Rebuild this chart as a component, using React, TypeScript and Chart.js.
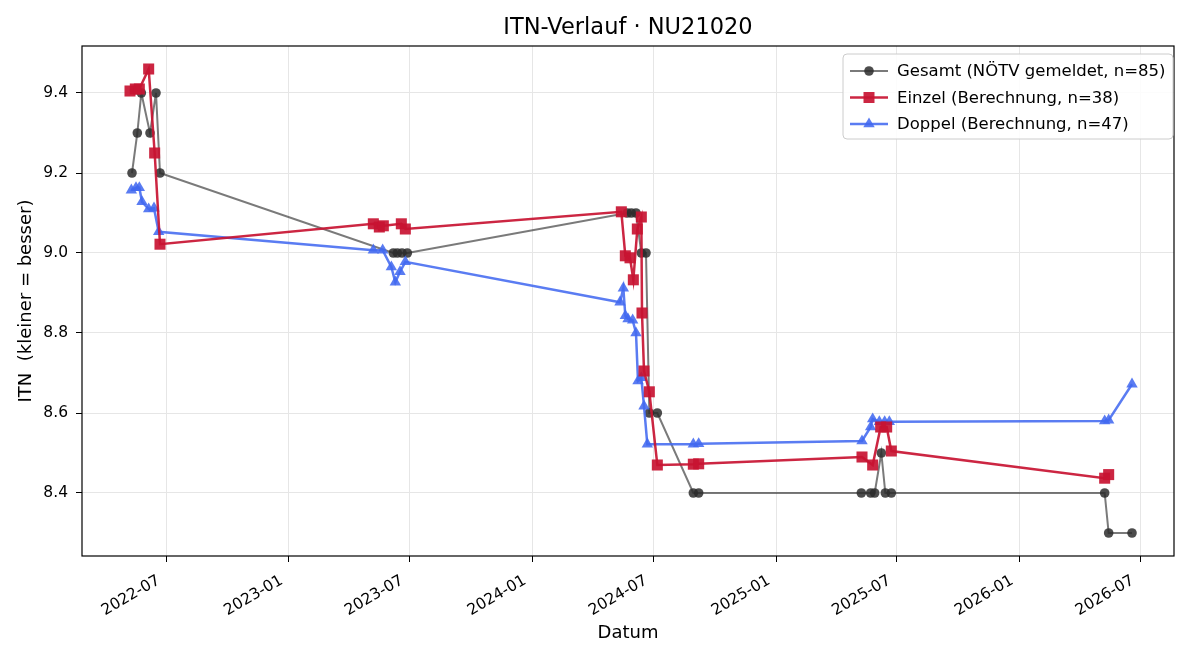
import React, { useEffect, useRef } from "react";
import { Chart, registerables } from "chart.js";

Chart.register(...registerables);

const gesamtDates = [
  "2022-05-11", "2022-05-19", "2022-05-25", "2022-06-07", "2022-06-16", "2022-06-22",
  "2023-06-07", "2023-06-13", "2023-06-20", "2023-06-28",
  "2024-05-23", "2024-05-29", "2024-06-05", "2024-06-13", "2024-06-20", "2024-06-25", "2024-07-07",
  "2024-08-30", "2024-09-07",
  "2025-05-09", "2025-05-23", "2025-05-29", "2025-06-08", "2025-06-14", "2025-06-23",
  "2026-05-09", "2026-05-15", "2026-06-19",
];
const gesamtValues = [
  9.2, 9.3, 9.4, 9.3, 9.4, 9.2,
  9.0, 9.0, 9.0, 9.0,
  9.1, 9.1, 9.1, 9.0, 9.0, 8.6, 8.6,
  8.4, 8.4,
  8.4, 8.4, 8.4, 8.5, 8.4, 8.4,
  8.4, 8.3, 8.3,
];

const einzelDates = [
  "2022-05-08", "2022-05-16", "2022-05-22", "2022-06-05", "2022-06-14", "2022-06-22",
  "2023-05-08", "2023-05-17", "2023-05-23", "2023-06-19", "2023-06-25",
  "2024-05-14", "2024-05-20", "2024-05-27", "2024-06-01", "2024-06-07", "2024-06-13", "2024-06-14",
  "2024-06-17", "2024-06-25", "2024-07-07",
  "2024-08-30", "2024-09-07",
  "2025-05-10", "2025-05-26", "2025-06-07", "2025-06-16", "2025-06-23",
  "2026-05-09", "2026-05-15",
];
const einzelValues = [
  9.405, 9.41, 9.41, 9.46, 9.25, 9.022,
  9.073, 9.065, 9.068, 9.073, 9.06,
  9.103, 8.993, 8.988, 8.933, 9.06, 9.09, 8.85,
  8.705, 8.653, 8.47,
  8.472, 8.473,
  8.49, 8.47, 8.565, 8.565, 8.505,
  8.437, 8.446,
];

const doppelDates = [
  "2022-05-10", "2022-05-17", "2022-05-22", "2022-05-26", "2022-06-05", "2022-06-13", "2022-06-20",
  "2023-05-08", "2023-05-22", "2023-06-04", "2023-06-10", "2023-06-17", "2023-06-25",
  "2024-05-12", "2024-05-17", "2024-05-20", "2024-05-24", "2024-05-31", "2024-06-05", "2024-06-08",
  "2024-06-13", "2024-06-17", "2024-06-22",
  "2024-08-30", "2024-09-07",
  "2025-05-10", "2025-05-23", "2025-05-26", "2025-06-05", "2025-06-13", "2025-06-20",
  "2026-05-09", "2026-05-15", "2026-06-19",
];
const doppelValues = [
  9.157, 9.163, 9.163, 9.128, 9.11, 9.112, 9.053,
  9.007, 9.007, 8.965, 8.927, 8.953, 8.978,
  8.877, 8.912, 8.843, 8.835, 8.832, 8.8, 8.68,
  8.688, 8.617, 8.522,
  8.522, 8.523,
  8.53, 8.565, 8.585, 8.578, 8.578, 8.578,
  8.58, 8.582, 8.672,
];

const xTickDates = [
  "2022-07-01", "2023-01-01", "2023-07-01", "2024-01-01", "2024-07-01",
  "2025-01-01", "2025-07-01", "2026-01-01", "2026-07-01",
];
const xTickLabels = ["2022-07", "2023-01", "2023-07", "2024-01", "2024-07", "2025-01", "2025-07", "2026-01", "2026-07"];
const yTicks = [8.4, 8.6, 8.8, 9.0, 9.2, 9.4];

const seriesLabels = [
  "Gesamt (NÖTV gemeldet, n=85)",
  "Einzel (Berechnung, n=38)",
  "Doppel (Berechnung, n=47)",
];

const titleText = "ITN-Verlauf · NU21020";
const xTitle = "Datum";
const yTitle = "ITN  (kleiner = besser)";

const FONT = '"DejaVu Sans", sans-serif';
const GRAY_LINE = "rgba(51,51,51,0.65)";
const GRAY_PT = "rgba(45,45,45,0.85)";
const RED = "rgba(200,20,50,0.92)";
const BLUE = "rgba(65,105,240,0.87)";

function toDay(s: string): number {
  const [y, m, d] = s.split("-").map(Number);
  return Date.UTC(y, m - 1, d) / 86400000;
}

function pts(dates: string[], vals: number[]) {
  return dates.map((d, i) => ({ x: toDay(d), y: vals[i] }));
}

function drawMarker(ctx: CanvasRenderingContext2D, kind: string, x: number, y: number, color: string) {
  ctx.fillStyle = color;
  ctx.beginPath();
  if (kind === "circle") {
    ctx.arc(x, y, 4.8, 0, Math.PI * 2);
  } else if (kind === "rect") {
    ctx.rect(x - 5.5, y - 5.5, 11, 11);
  } else {
    const r = 6.6;
    ctx.moveTo(x, y - r);
    ctx.lineTo(x + r * 0.866, y + r * 0.5);
    ctx.lineTo(x - r * 0.866, y + r * 0.5);
    ctx.closePath();
  }
  ctx.fill();
}

const decorPlugin = {
  id: "decor",
  afterDraw(chart: any) {
    const ctx: CanvasRenderingContext2D = chart.ctx;
    const a = chart.chartArea;
    const xs = chart.scales.x;
    ctx.save();
    // frame
    ctx.strokeStyle = "#000";
    ctx.lineWidth = 1.2;
    ctx.strokeRect(a.left, a.top, a.right - a.left, a.bottom - a.top);

    // x tick labels (rotated)
    ctx.fillStyle = "#000";
    ctx.font = `15.5px ${FONT}`;
    ctx.textAlign = "right";
    ctx.textBaseline = "alphabetic";
    xTickDates.forEach((d, i) => {
      const px = xs.getPixelForValue(toDay(d));
      ctx.save();
      ctx.translate(px - 5, a.bottom + 27);
      ctx.rotate(-Math.PI / 6);
      ctx.fillText(xTickLabels[i], 0, 0);
      ctx.restore();
    });

    // title
    ctx.textAlign = "center";
    ctx.textBaseline = "middle";
    ctx.font = `22.5px ${FONT}`;
    ctx.fillText(titleText, (a.left + a.right) / 2, 28);

    // axis titles
    ctx.font = `18px ${FONT}`;
    ctx.fillText(xTitle, (a.left + a.right) / 2, 633);
    ctx.save();
    ctx.translate(26, (a.top + a.bottom) / 2);
    ctx.rotate(-Math.PI / 2);
    ctx.fillText(yTitle, 0, 0);
    ctx.restore();

    // legend
    const lx = 843, ly = 54, lw = 330, lh = 85;
    ctx.beginPath();
    const r = 4;
    ctx.moveTo(lx + r, ly);
    ctx.arcTo(lx + lw, ly, lx + lw, ly + lh, r);
    ctx.arcTo(lx + lw, ly + lh, lx, ly + lh, r);
    ctx.arcTo(lx, ly + lh, lx, ly, r);
    ctx.arcTo(lx, ly, lx + lw, ly, r);
    ctx.closePath();
    ctx.fillStyle = "rgba(255,255,255,0.85)";
    ctx.fill();
    ctx.strokeStyle = "#cccccc";
    ctx.lineWidth = 1;
    ctx.stroke();

    const rows = [71, 97.5, 124];
    const styles = [
      { line: GRAY_LINE, pt: GRAY_PT, kind: "circle", w: 2 },
      { line: RED, pt: RED, kind: "rect", w: 2.5 },
      { line: BLUE, pt: BLUE, kind: "triangle", w: 2.5 },
    ];
    ctx.font = `16.5px ${FONT}`;
    ctx.textAlign = "left";
    ctx.textBaseline = "middle";
    rows.forEach((ry, i) => {
      const s = styles[i];
      ctx.strokeStyle = s.line;
      ctx.lineWidth = s.w;
      ctx.beginPath();
      ctx.moveTo(850, ry);
      ctx.lineTo(888, ry);
      ctx.stroke();
      drawMarker(ctx, s.kind, 869, ry, s.pt);
      ctx.fillStyle = "#000";
      ctx.fillText(seriesLabels[i], 897, ry + 1);
    });
    ctx.restore();
  },
};

export default function App() {
  const ref = useRef<HTMLCanvasElement | null>(null);
  useEffect(() => {
    if (!ref.current) return;
    const chart = new Chart(ref.current, {
      type: "line",
      data: {
        datasets: [
          {
            label: seriesLabels[0],
            data: pts(gesamtDates, gesamtValues),
            borderColor: GRAY_LINE,
            backgroundColor: GRAY_PT,
            pointBackgroundColor: GRAY_PT,
            pointBorderWidth: 0,
            borderWidth: 2,
            pointStyle: "circle",
            pointRadius: 4.8,
            order: 3,
          },
          {
            label: seriesLabels[1],
            data: pts(einzelDates, einzelValues),
            borderColor: RED,
            backgroundColor: RED,
            pointBackgroundColor: RED,
            pointBorderWidth: 0,
            borderWidth: 2.5,
            pointStyle: "rect",
            pointRadius: 7.8,
            order: 1,
          },
          {
            label: seriesLabels[2],
            data: pts(doppelDates, doppelValues),
            borderColor: BLUE,
            backgroundColor: BLUE,
            pointBackgroundColor: BLUE,
            pointBorderWidth: 0,
            borderWidth: 2.5,
            pointStyle: "triangle",
            pointRadius: 6.6,
            order: 2,
          },
        ],
      },
      options: {
        animation: false,
        responsive: false,
        devicePixelRatio: 1,
        layout: { padding: { left: 0, right: 26, top: 46, bottom: 0 } },
        plugins: {
          legend: { display: false },
          title: { display: false },
          tooltip: { enabled: false },
        },
        elements: { line: { tension: 0 } },
        scales: {
          x: {
            type: "linear",
            min: toDay("2022-02-25"),
            max: toDay("2026-08-21"),
            afterBuildTicks: (s: any) => {
              s.ticks = xTickDates.map((d) => ({ value: toDay(d) }));
            },
            afterFit: (s: any) => {
              s.height = 104;
            },
            ticks: { display: false },
            grid: {
              color: "#e6e6e6",
              lineWidth: 1,
              tickColor: "#000",
              tickLength: 6,
              drawTicks: true,
            },
            border: { display: false },
          },
          y: {
            type: "linear",
            min: 8.2425,
            max: 9.5175,
            afterBuildTicks: (s: any) => {
              s.ticks = yTicks.map((v) => ({ value: v }));
            },
            afterFit: (s: any) => {
              s.width = 82;
            },
            ticks: {
              color: "#000",
              padding: 8,
              font: { family: FONT, size: 15.5 },
              callback: (v: any) => Number(v).toFixed(1),
            },
            grid: {
              color: "#e6e6e6",
              lineWidth: 1,
              tickColor: "#000",
              tickLength: 6,
              drawTicks: true,
            },
            border: { display: false },
          },
        },
      },
      plugins: [decorPlugin],
    } as any);
    return () => chart.destroy();
  }, []);
  return (
    <div style={{ position: "absolute", left: 0, top: 0, width: 1200, height: 660, background: "#fff" }}>
      <canvas ref={ref} width={1200} height={660} />
    </div>
  );
}
